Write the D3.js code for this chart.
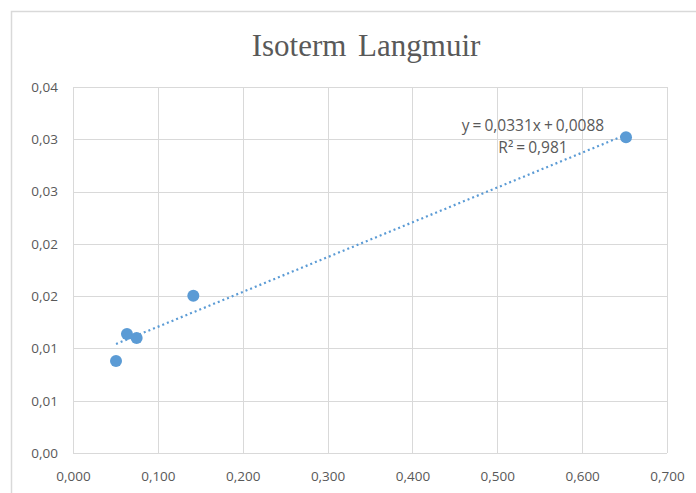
<!DOCTYPE html>
<html><head><meta charset="utf-8">
<script src="https://cdn.jsdelivr.net/npm/d3@7"></script>
<style>body{margin:0;background:#fff}svg{display:block}</style>
</head><body>
<svg id="c" width="696" height="493"></svg>
<script>
const title = "Isoterm Langmuir";
const xValues = [0.0507, 0.0636, 0.0750, 0.1418, 0.6517];
const yValues = [0.0088, 0.01138, 0.0110, 0.01504, 0.0302];
const xTicks = [0, 0.1, 0.2, 0.3, 0.4, 0.5, 0.6, 0.7];
const yTicks = [0, 0.005, 0.01, 0.015, 0.02, 0.025, 0.03, 0.035];
const eqLabels = ["y = 0,0331x + 0,0088", "R² = 0,981"];

const svg = d3.select("#c");
const W = 696, H = 493;
const m = {left: 73, right: 667, top: 87, bottom: 453};
const x = d3.scaleLinear().domain([0, 0.7]).range([m.left, m.right]);
const y = d3.scaleLinear().domain([0, 0.035]).range([m.bottom, m.top]);
const fmtComma = (d, n) => (Math.round(d * 10 ** n + 1e-6) / 10 ** n).toFixed(n).replace(".", ",");
const grey = "#595959", grid = "#d9d9d9", blue = "#5B9BD5";

// outer chart border
svg.append("rect").attr("x", 11.5).attr("y", 11.5).attr("width", W).attr("height", H)
  .attr("fill", "#fff").attr("stroke", grid).attr("stroke-width", 1.5);

// gridlines
svg.append("g").selectAll("line").data(yTicks).join("line")
  .attr("x1", m.left).attr("x2", m.right)
  .attr("y1", d => Math.round(y(d)) + 0.5).attr("y2", d => Math.round(y(d)) + 0.5)
  .attr("stroke", grid).attr("stroke-width", 1);
svg.append("g").selectAll("line").data(xTicks).join("line")
  .attr("y1", m.top).attr("y2", m.bottom)
  .attr("x1", d => Math.round(x(d)) + 0.5).attr("x2", d => Math.round(x(d)) + 0.5)
  .attr("stroke", grid).attr("stroke-width", 1);

// axes labels via d3 axes
const yAxis = d3.axisLeft(y).tickValues(yTicks).tickFormat(d => fmtComma(d, 2)).tickSize(0).tickPadding(15);
const gy = svg.append("g").attr("transform", `translate(${m.left},0)`).call(yAxis);
const xAxis = d3.axisBottom(x).tickValues(xTicks).tickFormat(d => fmtComma(d, 3)).tickSize(0).tickPadding(18);
const gx = svg.append("g").attr("transform", `translate(0,${m.bottom})`).call(xAxis);
[gx, gy].forEach(g => {
  g.select(".domain").remove();
  g.selectAll("text").attr("fill", grey).style("font-family", "'Open Sans', 'Liberation Sans', sans-serif").style("font-size", "13.5px");
});

// title
svg.append("text").attr("x", 366).attr("y", 56).attr("text-anchor", "middle")
  .attr("fill", grey).style("font-family", "'Liberation Serif', 'DejaVu Serif', serif")
  .style("font-size", "31px").style("word-spacing", "4px").text(title);

// trendline (least squares from data)
const n = xValues.length;
const mx = d3.mean(xValues), my = d3.mean(yValues);
let sxy = 0, sxx = 0;
for (let i = 0; i < n; i++) { sxy += (xValues[i]-mx)*(yValues[i]-my); sxx += (xValues[i]-mx)**2; }
const slope = sxy / sxx, icpt = my - slope * mx;
const x0 = d3.min(xValues), x1 = d3.max(xValues);
svg.append("line")
  .attr("x1", x(x0)).attr("y1", y(slope*x0 + icpt))
  .attr("x2", x(x1)).attr("y2", y(slope*x1 + icpt))
  .attr("stroke", blue).attr("stroke-width", 2.2).attr("stroke-dasharray", "2 3");

// points
svg.append("g").selectAll("circle").data(xValues).join("circle")
  .attr("cx", d => x(d)).attr("cy", (d, i) => y(yValues[i])).attr("r", 6)
  .attr("fill", blue);

// equation label
svg.append("g").selectAll("text").data(eqLabels).join("text")
  .attr("x", 533).attr("y", (d, i) => 131 + i * 22).attr("text-anchor", "middle")
  .attr("fill", grey).style("font-family", "'Open Sans', 'Liberation Sans', sans-serif")
  .style("font-size", "15.5px").style("word-spacing", "-1px").text(d => d);
</script>
</body></html>
